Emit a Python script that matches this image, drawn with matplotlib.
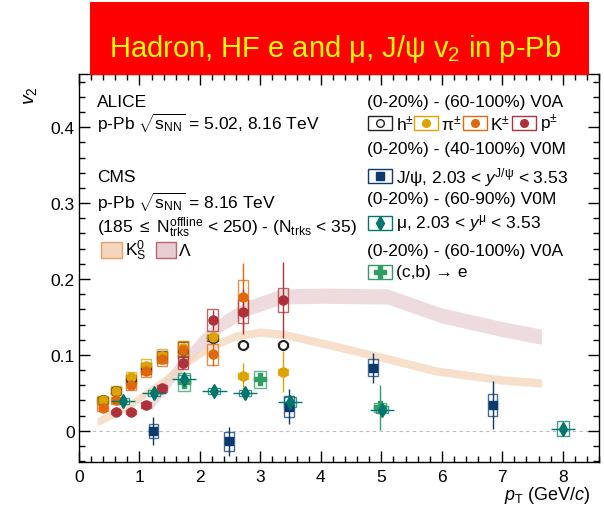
import numpy as np
import matplotlib
matplotlib.use("Agg")
import matplotlib.pyplot as plt
from matplotlib.patches import Rectangle

plt.rcParams['font.family'] = ['Liberation Sans', 'DejaVu Sans']
plt.rcParams['mathtext.fontset'] = 'custom'
plt.rcParams['mathtext.rm'] = 'Liberation Sans'
plt.rcParams['mathtext.it'] = 'Liberation Sans:italic'
plt.rcParams['mathtext.bf'] = 'Liberation Sans:bold'

# ALICE charged hadrons / identified hadrons
pt_h = [0.39, 0.61, 0.86, 1.11, 1.37, 1.72, 2.21, 2.71, 3.37]
v2_h = [0.040, 0.053, 0.068, 0.082, 0.097, 0.107, 0.122, 0.113, 0.113]
stat_h = [0.002, 0.002, 0.002, 0.002, 0.002, 0.002, 0.003, 0.003, 0.003]
sys_h = [0.004, 0.005, 0.006, 0.007, 0.008, 0.010, 0.004, 0.003, 0.003]

pt_pi = [0.39, 0.61, 0.86, 1.11, 1.37, 1.72, 2.21, 2.71, 3.37]
v2_pi = [0.041, 0.053, 0.071, 0.086, 0.099, 0.109, 0.124, 0.072, 0.078]
stat_pi = [0.002, 0.002, 0.003, 0.003, 0.004, 0.005, 0.006, 0.017, 0.027]
sys_pi = [0.005, 0.006, 0.007, 0.008, 0.009, 0.010, 0.004, 0.004, 0.004]

pt_k = [0.39, 0.61, 0.86, 1.11, 1.37, 1.72, 2.21, 2.71]
v2_k = [0.030, 0.040, 0.060, 0.079, 0.095, 0.107, 0.101, 0.176]
stat_k = [0.002, 0.002, 0.003, 0.004, 0.005, 0.007, 0.015, 0.045]
sys_k = [0.004, 0.005, 0.006, 0.008, 0.009, 0.012, 0.014, 0.023]

pt_p = [0.61, 0.86, 1.11, 1.37, 1.72, 2.21, 2.71, 3.37]
v2_p = [0.025, 0.025, 0.034, 0.056, 0.090, 0.146, 0.157, 0.172]
stat_p = [0.006, 0.005, 0.006, 0.007, 0.009, 0.013, 0.030, 0.050]
sys_p = [0.003, 0.003, 0.004, 0.005, 0.008, 0.014, 0.015, 0.016]

# ALICE J/psi
pt_jpsi = [1.23, 2.48, 3.47, 4.86, 6.84]
v2_jpsi = [0.000, -0.014, 0.032, 0.083, 0.034]
stat_jpsi = [0.018, 0.019, 0.023, 0.020, 0.032]
sys_jpsi = [0.009, 0.012, 0.014, 0.011, 0.015]

# ALICE HF muons
pt_mu = [0.73, 1.24, 1.74, 2.24, 2.74, 3.49, 5.01, 8.00]
v2_mu = [0.039, 0.050, 0.068, 0.052, 0.050, 0.038, 0.028, 0.003]
stat_mu = [0.004, 0.005, 0.006, 0.004, 0.004, 0.006, 0.006, 0.004]
sys_mu = [0.004, 0.004, 0.005, 0.004, 0.004, 0.006, 0.005, 0.010]
xerr_mu = [0.2, 0.2, 0.2, 0.2, 0.2, 0.2, 0.2, 0.2]

# ALICE HF electrons
pt_e = [1.74, 2.99, 4.98]
v2_e = [0.064, 0.068, 0.031]
stat_e = [0.008, 0.007, 0.030]
sys_e = [0.012, 0.011, 0.006]

# CMS bands
pt_k0s = [0.3, 0.8, 1.4, 1.8, 2.2, 2.6, 3.0, 3.4, 4.0, 5.0, 5.9, 7.0, 7.65]
v2_k0s = [0.012, 0.032, 0.066, 0.091, 0.112, 0.125, 0.130, 0.127, 0.116, 0.097, 0.079, 0.067, 0.063]
pt_lam = [1.2, 1.6, 2.0, 2.4, 2.8, 3.35, 4.0, 5.1, 6.0, 7.0, 7.65]
v2_lam = [0.038, 0.078, 0.115, 0.143, 0.162, 0.177, 0.178, 0.177, 0.152, 0.134, 0.124]

c_h = "#222222"
c_pi = "#DDA300"
c_k = "#E0680A"
c_p = "#AE3038"
c_jpsi = "#0B3A6C"
c_mu = "#00766C"
c_e = "#2E9E64"
c_k0s = "#F3D6BC"
c_lam = "#E8CDD0"

fig = plt.figure(figsize=(6.04, 5.10), dpi=100)
ax = fig.add_axes([0.1308, 0.0922, 0.8609, 0.7607])

ax.fill_between(pt_k0s, np.array(v2_k0s) - 0.0055, np.array(v2_k0s) + 0.0055,
                color=c_k0s, alpha=0.75, lw=0, zorder=1)
ax.fill_between(pt_lam, np.array(v2_lam) - 0.010, np.array(v2_lam) + 0.010,
                color=c_lam, alpha=0.7, lw=0, zorder=0.9)

ax.axhline(0, color="#BBBBBB", ls=(0, (3, 3)), lw=0.8, zorder=0.5)


def sysboxes(x, y, s, w, col, ls='-'):
    for xi, yi, si in zip(x, y, s):
        ax.add_patch(Rectangle((xi - w / 2, yi - si), w, 2 * si, fill=False,
                               ec=col, lw=1.0, alpha=0.75, ls=ls, zorder=2))


sysboxes(pt_h, v2_h, sys_h, 0.17, c_h)
sysboxes(pt_pi, v2_pi, sys_pi, 0.17, c_pi)
sysboxes(pt_k, v2_k, sys_k, 0.17, c_k)
sysboxes(pt_p, v2_p, sys_p, 0.17, c_p)
sysboxes(pt_jpsi, v2_jpsi, sys_jpsi, 0.16, c_jpsi)
sysboxes(pt_mu, v2_mu, sys_mu, 0.2, c_mu)
sysboxes(pt_e, v2_e, sys_e, 0.19, c_e)

ax.errorbar(pt_h, v2_h, yerr=stat_h, fmt='o', ms=6.5, mfc='white', mec=c_h,
            mew=1.5, color=c_h, elinewidth=1, capsize=0, zorder=3)
ax.errorbar(pt_pi, v2_pi, yerr=stat_pi, fmt='o', ms=6.5, color=c_pi,
            elinewidth=1, capsize=0, zorder=4)
ax.errorbar(pt_k, v2_k, yerr=stat_k, fmt='o', ms=6.5, color=c_k,
            elinewidth=1, capsize=0, zorder=4)
ax.errorbar(pt_p, v2_p, yerr=stat_p, fmt='o', ms=6.5, color=c_p,
            elinewidth=1, capsize=0, zorder=4)
ax.errorbar(pt_jpsi, v2_jpsi, yerr=stat_jpsi, fmt='s', ms=5.5, color=c_jpsi,
            elinewidth=1, capsize=0, zorder=4)
ax.errorbar(pt_e, v2_e, yerr=stat_e, fmt='P', ms=8, color=c_e,
            elinewidth=1, capsize=0, zorder=4)
ax.errorbar(pt_mu, v2_mu, yerr=stat_mu, xerr=xerr_mu, fmt='d', ms=7.5, color=c_mu,
            elinewidth=1, capsize=0, zorder=5)

ax.set_xlim(0, 8.6)
ax.set_ylim(-0.041, 0.47)
ax.set_xticks(np.arange(0, 9, 1))
ax.set_xticks(np.arange(0, 8.61, 0.2), minor=True)
ax.set_yticks([0, 0.1, 0.2, 0.3, 0.4])
ax.set_yticklabels(["0", "0.1", "0.2", "0.3", "0.4"])
ax.set_yticks(np.arange(-0.04, 0.47, 0.02), minor=True)
ax.tick_params(which='both', direction='in', top=True, right=True,
               labelsize=12.5, width=1)
ax.tick_params(which='major', length=8)
ax.tick_params(which='minor', length=4)
ax.tick_params(axis='x', pad=5)
ax.tick_params(axis='y', pad=3)
for sp in ax.spines.values():
    sp.set_linewidth(1)

fs = 12.5
T = ax.transAxes
# left annotations
ax.text(0.035, 0.930, "ALICE", transform=T, fontsize=fs, va='center')
ax.text(0.035, 0.876, r"p-Pb $\sqrt{\mathrm{s}_{\mathrm{NN}}}$ = 5.02, 8.16 TeV",
        transform=T, fontsize=fs, va='center')
ax.text(0.035, 0.735, "CMS", transform=T, fontsize=fs, va='center')
ax.text(0.035, 0.673, r"p-Pb $\sqrt{\mathrm{s}_{\mathrm{NN}}}$ = 8.16 TeV",
        transform=T, fontsize=fs, va='center')
ax.text(0.035, 0.606,
        r"(185 $\leq$ N$^{\mathrm{offline}}_{\mathrm{trks}}$ < 250) - (N$_{\mathrm{trks}}$ < 35)",
        transform=T, fontsize=fs, va='center')
ax.add_patch(Rectangle((0.042, 0.526), 0.041, 0.041, transform=T, fc=c_k0s,
                       ec="#E0A06A", lw=1, zorder=6))
ax.text(0.089, 0.546, r"K$^{0}_{\mathrm{S}}$", transform=T, fontsize=fs, va='center')
ax.add_patch(Rectangle((0.148, 0.526), 0.039, 0.041, transform=T, fc=c_lam,
                       ec="#B86470", lw=1, zorder=6))
ax.text(0.192, 0.546, "Λ", transform=T, fontsize=fs, va='center')

# right legend
lx = 0.554
ax.text(lx, 0.928, "(0-20%) - (60-100%) V0A", transform=T, fontsize=fs, va='center')
ax.text(lx, 0.807, "(0-20%) - (40-100%) V0M", transform=T, fontsize=fs, va='center')
ax.text(lx, 0.678, "(0-20%) - (60-90%) V0M", transform=T, fontsize=fs, va='center')
ax.text(lx, 0.544, "(0-20%) - (60-100%) V0A", transform=T, fontsize=fs, va='center')

bw, bh = 0.046, 0.038


def legbox(x0, yc, col, marker, ms, mfc=None, text="", tx=None):
    ax.add_patch(Rectangle((x0, yc - bh / 2), bw, bh, transform=T, fill=False,
                           ec=col, lw=1, zorder=6))
    ax.plot([x0 + bw / 2], [yc], marker=marker, ms=ms, color=col,
            mfc=mfc if mfc else col, mec=col, transform=T, zorder=7, clip_on=False)
    ax.text(tx if tx else x0 + bw + 0.007, yc, text, transform=T, fontsize=fs,
            va='center')


legbox(0.556, 0.874, c_h, 'o', 5.5, mfc='white', text=r"h$^{\pm}$")
legbox(0.644, 0.874, c_pi, 'o', 5.5, text=r"π$^{\pm}$")
legbox(0.738, 0.874, c_k, 'o', 5.5, text=r"K$^{\pm}$")
legbox(0.833, 0.874, c_p, 'o', 5.5, text=r"p$^{\pm}$")
legbox(0.556, 0.737, c_jpsi, 's', 5.5, text=r"J/ψ, 2.03 < $y^{\mathrm{J/ψ}}$ < 3.53")
legbox(0.556, 0.616, c_mu, 'd', 7, text=r"μ, 2.03 < $y^{\mathrm{μ}}$ < 3.53")
legbox(0.556, 0.490, c_e, 'P', 8, text="(c,b) → e")

fig.text(0.05, 0.812, r"$v_{2}$", rotation=90, fontsize=14, ha='center', va='center')
fig.text(0.977, 0.019, r"$p_{\mathrm{T}}$ (GeV/$c$)", fontsize=13, ha='right',
         va='baseline')

# title banner
fig.add_artist(Rectangle((0.149, 0.851), 0.826, 0.143, transform=fig.transFigure,
                         fc="#FF0000", ec='none', zorder=10))
fig.text(0.555, 0.888, r"Hadron, HF e and μ, J/ψ v$_{2}$ in p-Pb", color="#FFFF00",
         fontsize=21, ha='center', va='baseline', zorder=11)

fig.savefig("out.png", dpi=100)
